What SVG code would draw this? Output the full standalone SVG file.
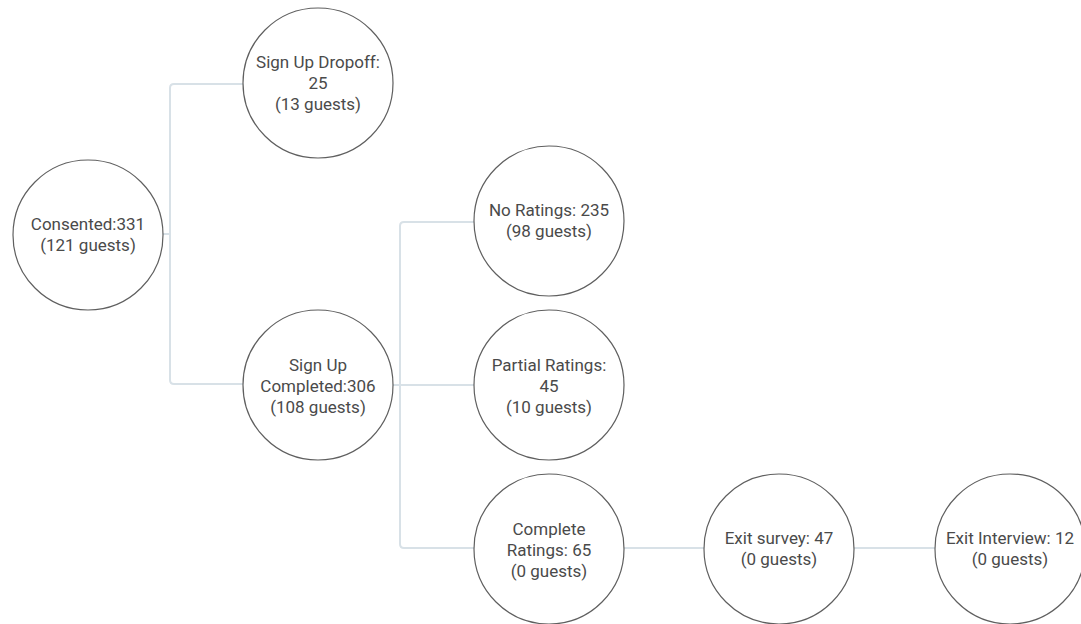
<svg xmlns="http://www.w3.org/2000/svg" width="1081" height="624" viewBox="0 0 1081 624">
<style>
.node circle{fill:#fff;stroke:#5f5f5f;stroke-width:1.2}
.node text{font-family:Roboto,"Liberation Sans",sans-serif;font-size:17px;fill:#4a4a4a;text-anchor:middle}
.conn path{fill:none;stroke:#d8e1e7;stroke-width:2}
</style>
<rect width="1081" height="624" fill="#fff"/>
<g id="connectors" class="conn">
<path d="M163,234 H170 V88 Q170,84 174,84 H243"/>
<path d="M163,234 H170 V380 Q170,384 174,384 H243"/>
<path d="M393,385 H400 V226 Q400,222 404,222 H474"/>
<path d="M393,385 H474"/>
<path d="M393,385 H400 V544 Q400,548 404,548 H474"/>
<path d="M624,548 H704"/>
<path d="M854,548 H935"/>
</g>
<g id="consented" class="node">
<circle cx="88" cy="235" r="75"/>
<text x="88" y="230">Consented:331</text>
<text x="88" y="251">(121 guests)</text>
</g>
<g id="signup-dropoff" class="node">
<circle cx="318" cy="83" r="75"/>
<text x="318" y="68">Sign Up Dropoff:</text>
<text x="318" y="89">25</text>
<text x="318" y="110">(13 guests)</text>
</g>
<g id="signup-completed" class="node">
<circle cx="318" cy="385" r="75"/>
<text x="318" y="371">Sign Up</text>
<text x="318" y="392">Completed:306</text>
<text x="318" y="413">(108 guests)</text>
</g>
<g id="no-ratings" class="node">
<circle cx="549" cy="221" r="75"/>
<text x="549" y="216">No Ratings: 235</text>
<text x="549" y="237">(98 guests)</text>
</g>
<g id="partial-ratings" class="node">
<circle cx="549" cy="385" r="75"/>
<text x="549" y="371">Partial Ratings:</text>
<text x="549" y="392">45</text>
<text x="549" y="413">(10 guests)</text>
</g>
<g id="complete-ratings" class="node">
<circle cx="549" cy="549" r="75"/>
<text x="549" y="535">Complete</text>
<text x="549" y="556">Ratings: 65</text>
<text x="549" y="577">(0 guests)</text>
</g>
<g id="exit-survey" class="node">
<circle cx="779" cy="549" r="75"/>
<text x="779" y="544">Exit survey: 47</text>
<text x="779" y="565">(0 guests)</text>
</g>
<g id="exit-interview" class="node">
<circle cx="1010" cy="549" r="75"/>
<text x="1010" y="544">Exit Interview: 12</text>
<text x="1010" y="565">(0 guests)</text>
</g>
</svg>
